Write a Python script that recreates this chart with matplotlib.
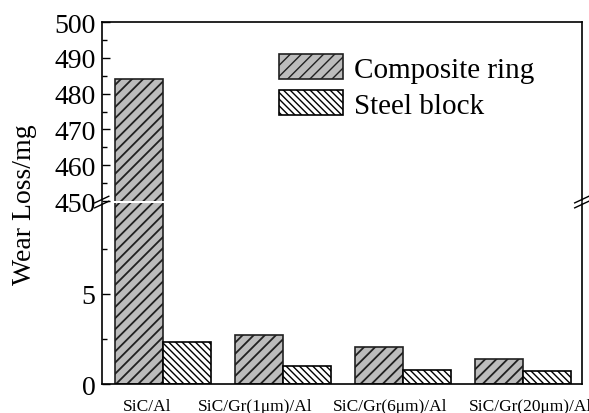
from matplotlib import pyplot as plt
import numpy as np

plt.rcParams['font.family'] = ['Liberation Serif', 'DejaVu Serif']

#数据
groups = ['SiC/Al', 'SiC/Gr(1μm)/Al', 'SiC/Gr(6μm)/Al', 'SiC/Gr(20μm)/Al']
ring = [484, 2.74, 2.04, 1.39]
block = [2.33, 0.98, 0.78, 0.71]

#标签的位置（原图不是正对组中心）
label_pos = [-0.127, 0.77, 1.89, 3.06]

x = np.arange(len(groups))
w = 0.4

fig = plt.figure(figsize=(5.89, 4.14), dpi=100)
ax_top = fig.add_axes([0.1727, 0.512, 0.8150, 0.4324])
ax_bot = fig.add_axes([0.1727, 0.0700, 0.8150, 0.4372])

for ax in (ax_top, ax_bot):
    plt.rcParams['hatch.linewidth'] = 1.3
    ax.bar(x - w / 2, ring, w, color='#bcbcbc', edgecolor='#202020', hatch='///',
           linewidth=1.2, label='Composite ring')
    plt.rcParams['hatch.linewidth'] = 1.0
    ax.bar(x + w / 2, block, w, color='white', edgecolor='black', hatch='\\\\\\\\\\',
           linewidth=1.2, label='Steel block')
    ax.set_xlim(-0.508, 3.489)
    ax.tick_params(axis='y', which='major', direction='in', length=6, width=1,
                   labelsize=20, pad=4.5)
    ax.tick_params(axis='y', which='minor', direction='in', length=3.5, width=1)
    ax.tick_params(axis='x', length=0)
    for s in ax.spines.values():
        s.set_linewidth(1.2)

ax_top.set_ylim(450, 500)
ax_top.set_yticks([450, 460, 470, 480, 490, 500])
ax_top.set_yticks(np.arange(455, 500, 10), minor=True)
ax_top.spines['bottom'].set_visible(False)
ax_top.set_xticks([])

ax_bot.set_ylim(0, 10.05)
ax_bot.set_yticks([0, 5])
ax_bot.set_yticks([2.5, 7.5], minor=True)
ax_bot.spines['top'].set_visible(False)
ax_bot.set_xticks(label_pos)
ax_bot.set_xticklabels(groups, fontsize=12.5)
ax_bot.tick_params(axis='x', pad=10)

#断轴的斜杠
for xx in (0, 1):
    for dy in (-0.006, 0.006):
        fig.lines.append(plt.Line2D(
            [0.1727 + xx * 0.8150 - 0.012, 0.1727 + xx * 0.8150 + 0.012],
            [0.5095 + dy - 0.008, 0.5095 + dy + 0.008],
            transform=fig.transFigure, color='black', linewidth=1))

fig.text(0.042, 0.505, 'Wear Loss/mg', rotation=90, fontsize=20,
         ha='center', va='center')

ax_top.legend(loc='upper left', bbox_to_anchor=(279 / 589, 1 - 55 / 414),
              bbox_transform=fig.transFigure, frameon=False, fontsize=21,
              handlelength=2.2, handleheight=0.95, handletextpad=0.36,
              labelspacing=0.25, borderpad=0, borderaxespad=0)

plt.savefig('out.png', dpi=100)
